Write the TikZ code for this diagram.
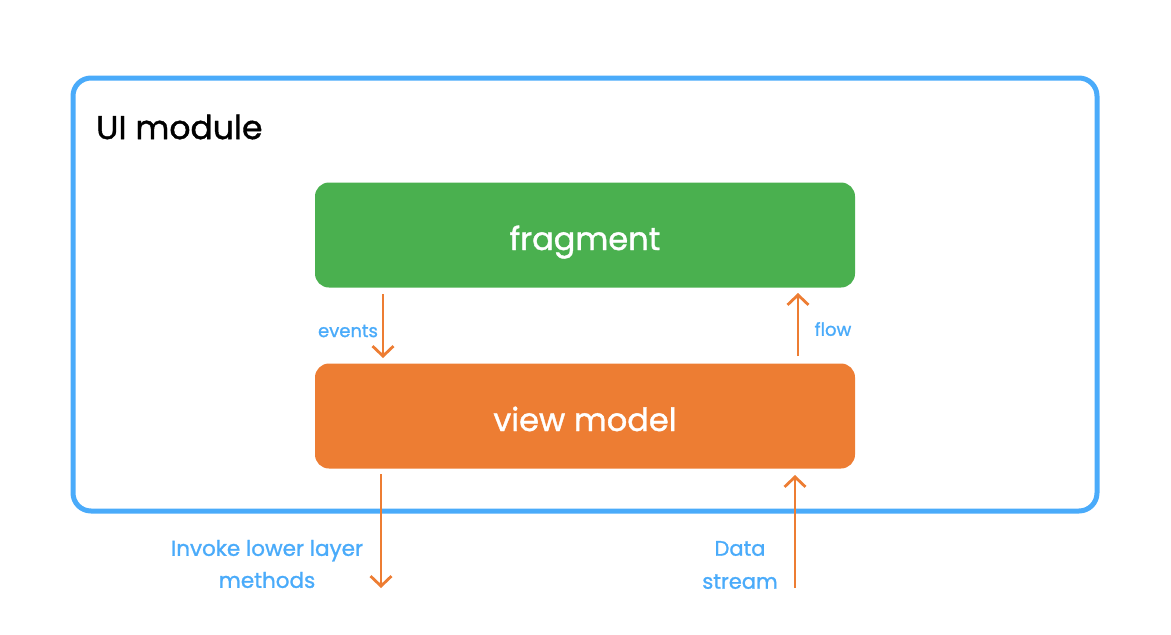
\documentclass[tikz,border=0pt]{standalone}
\usepackage{fontspec}
\setmainfont{Poppins}[FakeBold=1.2]
\usetikzlibrary{arrows.meta}
\definecolor{uiblue}{HTML}{4AABFA}
\definecolor{fraggreen}{HTML}{4AB04F}
\definecolor{vmorange}{HTML}{ED7D33}
\tikzset{
  x=1pt,y=-1pt,
  boxstyle/.style={rounded corners=14pt, minimum width=540pt, minimum height=105pt, text=white, font=\fontsize{32}{38}\selectfont, inner sep=0pt, text height=30pt, text depth=0pt},
  flowarrow/.style={draw=vmorange, line width=2.8pt, -{Straight Barb[length=10pt,width=21pt,line width=2.8pt]}},
  lbl/.style={text=uiblue, font=\fontsize{18}{22}\selectfont, inner sep=0pt, align=center},
}
\begin{document}
\begin{tikzpicture}
\useasboundingbox (0,0) rectangle (1171,635);
\draw[uiblue, line width=5pt, rounded corners=18pt] (73,78) rectangle (1097,511);
\node[anchor=west, inner sep=0pt, font=\fontsize{33}{38}\selectfont] (ui) at (96,127) {UI module};
\node[boxstyle, fill=fraggreen] (frag) at (585,235) {fragment};
\node[boxstyle, fill=vmorange] (vm) at (585,416) {view model};
\coordinate (e1) at (383,294);
\coordinate (e2) at (383,358);
\coordinate (f1) at (798,356);
\coordinate (f2) at (798,293);
\coordinate (i1) at (381,474);
\coordinate (i2) at (381,588);
\coordinate (d1) at (795,588);
\coordinate (d2) at (795,475);
\draw[flowarrow] (e1) -- (e2);
\draw[flowarrow] (f1) -- (f2);
\draw[flowarrow] (i1) -- (i2);
\draw[flowarrow] (d1) -- (d2);
\node[lbl] (ev) at (348,331) {events};
\node[lbl] (fl) at (833,329) {flow};
\node[lbl, font=\fontsize{21.5}{32}\selectfont] (inv) at (267,564) {Invoke lower layer\\methods};
\node[lbl, font=\fontsize{21}{33}\selectfont] (ds) at (740,565) {Data\\stream};
\end{tikzpicture}
\end{document}
